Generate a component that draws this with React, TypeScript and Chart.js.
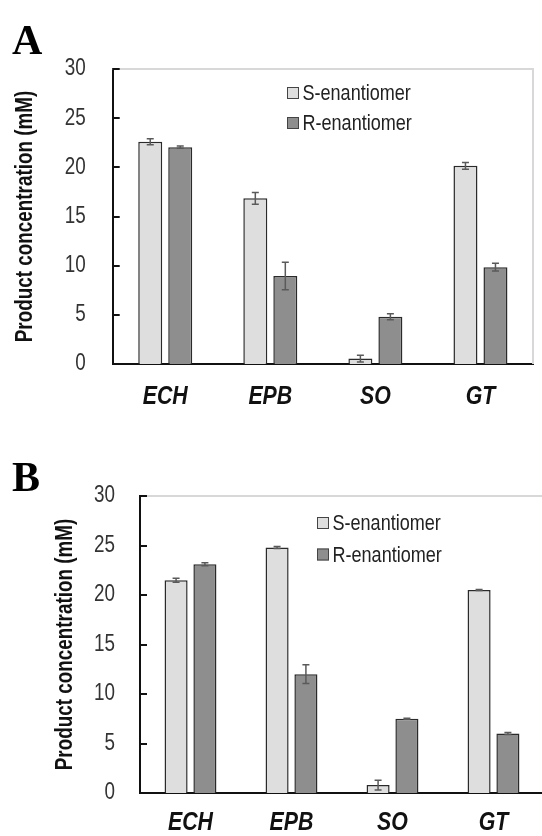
import React, { useEffect, useRef } from "react";
import { Chart, registerables } from "chart.js";

Chart.register(...registerables);

// ---------- data ----------
const categories = ["ECH", "EPB", "SO", "GT"];
const seriesNames = ["S-enantiomer", "R-enantiomer"];
const yTicks = [0, 5, 10, 15, 20, 25, 30];
const yTitle = "Product concentration (mM)";

const panelAS = [22.6, 16.85, 0.55, 20.15];
const panelASErr = [0.3, 0.6, 0.35, 0.35];
const panelAR = [22.05, 8.95, 4.8, 9.85];
const panelARErr = [0.12, 1.4, 0.3, 0.4];

const panelBS = [21.5, 24.8, 0.8, 20.5];
const panelBSErr = [0.2, 0.1, 0.5, 0.05];
const panelBR = [23.1, 12.0, 7.5, 6.0];
const panelBRErr = [0.15, 0.95, 0.05, 0.1];

// ---------- styles ----------
const SANS = "'Liberation Sans', Arial, sans-serif";
const NARROW_SCALE = 0.82; // emulate a narrow (condensed) face
const S_COLOR = "#dedede";
const R_COLOR = "#8e8e8e";

type Panel = {
  key: string;
  top: number;
  width: number;
  height: number;
  areaLeft: number;
  areaTop: number;
  areaBottom: number;
  areaRight: number;
  titleX: number;
  tickPad: number;
  xPad: number;
  legendX: number;
  legendY: number;
  legendDy: number;
  s: number[];
  sErr: number[];
  r: number[];
  rErr: number[];
};

const panels: Panel[] = [
  {
    key: "A", top: 0, width: 542, height: 415,
    areaLeft: 112.7, areaTop: 69, areaBottom: 364, areaRight: 533,
    titleX: 26, tickPad: 27, xPad: 17,
    legendX: 287, legendY: 93, legendDy: 30,
    s: panelAS, sErr: panelASErr, r: panelAR, rErr: panelARErr,
  },
  {
    key: "B", top: 415, width: 550, height: 421,
    areaLeft: 140, areaTop: 81, areaBottom: 378, areaRight: 544,
    titleX: 66, tickPad: 25, xPad: 14,
    legendX: 317, legendY: 108, legendDy: 31.5,
    s: panelBS, sErr: panelBSErr, r: panelBR, rErr: panelBRErr,
  },
];

const decorPlugin = {
  id: "decor",
  beforeDatasetsDraw(chart: any) {
    const { ctx, chartArea } = chart;
    ctx.save();
    ctx.strokeStyle = "#d8d8d8";
    ctx.lineWidth = 2;
    ctx.beginPath();
    ctx.moveTo(chartArea.left, chartArea.top);
    ctx.lineTo(chartArea.right, chartArea.top);
    ctx.lineTo(chartArea.right, chartArea.bottom);
    ctx.stroke();
    ctx.restore();
  },
  afterDatasetsDraw(chart: any) {
    const { ctx, chartArea } = chart;
    const y = chart.scales.y;
    ctx.save();
    chart.data.datasets.forEach((ds: any, i: number) => {
      const meta = chart.getDatasetMeta(i);
      meta.data.forEach((el: any, j: number) => {
        const v = ds.data[j];
        const e = ds.errors[j];
        const x = el.x;
        const yt = y.getPixelForValue(v + e);
        const yb = y.getPixelForValue(Math.max(0, v - e));
        ctx.strokeStyle = "#5a5a5a";
        ctx.lineWidth = 1.5;
        ctx.beginPath();
        ctx.moveTo(x, yt);
        ctx.lineTo(x, yb);
        ctx.moveTo(x - 3.5, yt);
        ctx.lineTo(x + 3.5, yt);
        ctx.moveTo(x - 3.5, yb);
        ctx.lineTo(x + 3.5, yb);
        ctx.stroke();
      });
    });
    ctx.strokeStyle = "#111";
    ctx.lineWidth = 2;
    ctx.beginPath();
    yTicks.forEach((t) => {
      if (t === 0) return;
      const py = Math.round(y.getPixelForValue(t));
      ctx.moveTo(chartArea.left, py);
      ctx.lineTo(chartArea.left + 7, py);
    });
    ctx.stroke();
    ctx.restore();
  },
};

function makeLegendPlugin(p: Panel) {
  return {
    id: "legendDraw" + p.key,
    afterDraw(chart: any) {
      const { ctx } = chart;
      ctx.save();
      chart.data.datasets.forEach((ds: any, i: number) => {
        const cy = p.legendY + i * p.legendDy;
        ctx.fillStyle = ds.backgroundColor;
        ctx.fillRect(p.legendX, cy - 6, 12, 12);
        ctx.strokeStyle = "#444";
        ctx.lineWidth = 1;
        ctx.strokeRect(p.legendX + 0.5, cy - 5.5, 11, 11);
        ctx.fillStyle = "#222";
        ctx.font = `22px ${SANS}`;
        ctx.textBaseline = "middle";
        ctx.textAlign = "left";
        ctx.fillText(ds.label, p.legendX + 15.5, cy + 1);
      });
      ctx.restore();
    },
  };
}

function condenseText(ctx: any) {
  if (ctx.__condensed) return;
  ctx.__condensed = true;
  const orig = ctx.fillText.bind(ctx);
  ctx.fillText = (t: string, x: number, y: number, mw?: number) => {
    ctx.save();
    ctx.translate(x, y);
    ctx.scale(NARROW_SCALE, 1);
    if (mw !== undefined && mw !== null && isFinite(mw)) orig(t, 0, 0, mw / NARROW_SCALE);
    else orig(t, 0, 0);
    ctx.restore();
  };
}

function PanelChart({ p }: { p: Panel }) {
  const ref = useRef<HTMLCanvasElement | null>(null);
  useEffect(() => {
    if (!ref.current) return;
    const ctx2d = ref.current.getContext("2d");
    condenseText(ctx2d);
    const chart = new Chart(ref.current, {
      type: "bar",
      data: {
        labels: categories,
        datasets: [
          {
            label: seriesNames[0],
            data: p.s,
            errors: p.sErr,
            backgroundColor: S_COLOR,
            borderColor: "#2a2a2a",
            borderWidth: 1.5,
          } as any,
          {
            label: seriesNames[1],
            data: p.r,
            errors: p.rErr,
            backgroundColor: R_COLOR,
            borderColor: "#2a2a2a",
            borderWidth: 1.5,
          } as any,
        ],
      },
      options: {
        responsive: false,
        animation: false,
        devicePixelRatio: 1,
        layout: {
          padding: { top: p.areaTop, right: p.width - p.areaRight, left: 0, bottom: 0 },
        },
        datasets: { bar: { categoryPercentage: 0.571, barPercentage: 0.8 } },
        plugins: { legend: { display: false }, tooltip: { enabled: false } },
        scales: {
          x: {
            type: "category",
            offset: true,
            grid: { display: false, drawTicks: false },
            border: { display: true, color: "#111", width: 2 },
            ticks: {
              color: "#111",
              padding: p.xPad,
              maxRotation: 0,
              autoSkip: false,
              font: { family: SANS, size: 26, style: "italic", weight: "bold" },
            },
            afterFit: (s: any) => {
              s.height = p.height - p.areaBottom;
            },
          },
          y: {
            min: 0,
            max: 30,
            afterBuildTicks: (s: any) => {
              s.ticks = yTicks.map((v) => ({ value: v }));
            },
            grid: { display: false, drawTicks: false },
            border: { display: true, color: "#111", width: 2 },
            ticks: {
              color: "#333",
              padding: p.tickPad,
              font: { family: SANS, size: 23 },
            },
            title: {
              display: true,
              text: yTitle,
              color: "#111",
              font: { family: SANS, size: 23, weight: "bold" },
              padding: { top: p.titleX - 13.8, bottom: 0 },
            },
            afterFit: (s: any) => {
              s.width = p.areaLeft;
            },
          },
        },
      } as any,
      plugins: [decorPlugin, makeLegendPlugin(p)],
    });
    return () => chart.destroy();
  }, []);
  return (
    <canvas
      ref={ref}
      width={p.width}
      height={p.height}
      style={{ position: "absolute", left: 0, top: p.top, width: p.width, height: p.height }}
    />
  );
}

const letterStyle = {
  position: "absolute" as const,
  left: 12,
  font: "bold 42px 'Liberation Serif', 'Times New Roman', serif",
  lineHeight: 1,
  color: "#000",
};

export default function App() {
  return (
    <div
      style={{
        position: "absolute",
        left: 0,
        top: 0,
        width: 542,
        height: 836,
        overflow: "hidden",
        background: "#fff",
      }}
    >
      {panels.map((p) => (
        <PanelChart key={p.key} p={p} />
      ))}
      <div style={{ ...letterStyle, top: 19 }}>A</div>
      <div style={{ ...letterStyle, top: 456 }}>B</div>
    </div>
  );
}
